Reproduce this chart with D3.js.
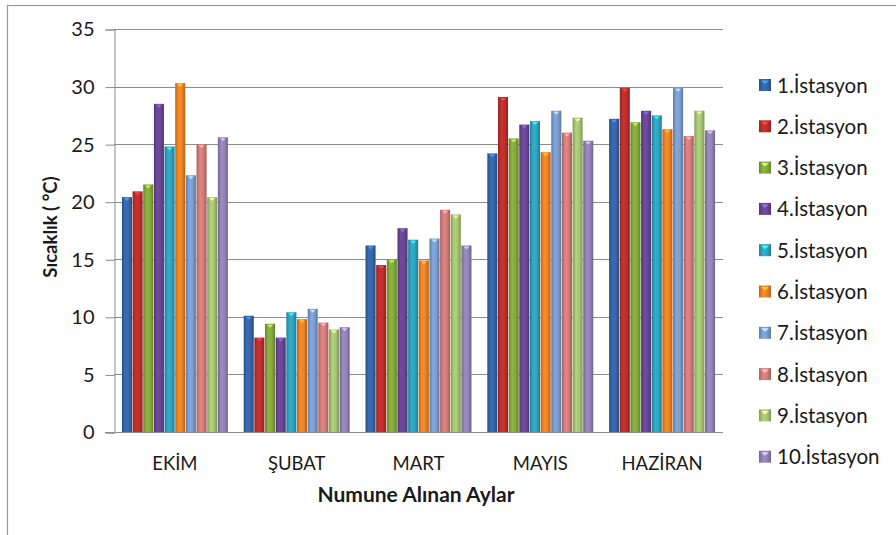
<!DOCTYPE html>
<html>
<head>
<meta charset="utf-8">
<script src="https://cdn.jsdelivr.net/npm/d3@7"></script>
<style>
  body { margin: 0; background: #fff; }
  svg { display: block; }
  text { font-family: Lato, "Open Sans", sans-serif; fill: #1a1a1a; }
</style>
</head>
<body>
<div id="chart"></div>
<script>
const months = ["EKİM", "ŞUBAT", "MART", "MAYIS", "HAZİRAN"];
const stations = ["1.İstasyon","2.İstasyon","3.İstasyon","4.İstasyon","5.İstasyon",
                  "6.İstasyon","7.İstasyon","8.İstasyon","9.İstasyon","10.İstasyon"];
// values per station, in month order
const st1  = [20.4, 10.1, 16.2, 24.2, 27.2];
const st2  = [20.9,  8.2, 14.5, 29.1, 29.9];
const st3  = [21.5,  9.4, 15.0, 25.5, 26.9];
const st4  = [28.5,  8.2, 17.7, 26.7, 27.9];
const st5  = [24.8, 10.4, 16.7, 27.0, 27.5];
const st6  = [30.3,  9.8, 14.9, 24.3, 26.3];
const st7  = [22.3, 10.7, 16.8, 27.9, 29.9];
const st8  = [25.0,  9.5, 19.3, 26.0, 25.7];
const st9  = [20.4,  8.9, 18.9, 27.3, 27.9];
const st10 = [25.6,  9.1, 16.2, 25.3, 26.2];
const series = [st1, st2, st3, st4, st5, st6, st7, st8, st9, st10];
const yTicks = [0, 5, 10, 15, 20, 25, 30, 35];
const colors = ["#3567ab","#bf2f2c","#86ac3c","#6a4797","#2ea5c1",
                "#f08424","#7c9fd3","#d67e7c","#a9c874","#9584b9"];

const W = 896, H = 535;
const svg = d3.select("#chart").append("svg").attr("width", W).attr("height", H);

// frame
svg.append("rect").attr("x", 7.5).attr("y", 5.5).attr("width", 1000).attr("height", 1000)
  .attr("fill", "none").attr("stroke", "#9a9a9a").attr("stroke-width", 1.2);

const plot = {left: 114, right: 723, top: 29, bottom: 432};
const x0 = d3.scaleBand().domain(months).range([plot.left, plot.right]).paddingInner(0.125).paddingOuter(0.0625);
const x1 = d3.scaleBand().domain(d3.range(stations.length)).range([0, x0.bandwidth()]);
const y = d3.scaleLinear().domain([0, 35]).range([plot.bottom, plot.top]);

// gradients
const defs = svg.append("defs");
colors.forEach((c, i) => {
  const g = defs.append("linearGradient").attr("id", "g" + i)
    .attr("x1", "0%").attr("x2", "100%").attr("y1", "0%").attr("y2", "0%");
  const base = d3.color(c);
  g.append("stop").attr("offset", "0%").attr("stop-color", base.darker(0.7));
  g.append("stop").attr("offset", "35%").attr("stop-color", base.brighter(0.15));
  g.append("stop").attr("offset", "65%").attr("stop-color", base);
  g.append("stop").attr("offset", "100%").attr("stop-color", base.darker(0.8));
});

// gridlines
svg.append("g").selectAll("line").data(yTicks.filter(t => t > 0)).join("line")
  .attr("x1", plot.left).attr("x2", plot.right)
  .attr("y1", d => Math.round(y(d)) + 0.5).attr("y2", d => Math.round(y(d)) + 0.5)
  .attr("stroke", "#8c8c8c").attr("stroke-width", 1);

// y axis
const yAxis = d3.axisLeft(y).tickValues(yTicks).tickSize(9).tickPadding(11);
const ya = svg.append("g").attr("transform", `translate(${plot.left + 0.5},0.5)`).call(yAxis);
ya.select(".domain").attr("stroke", "#8c8c8c");
ya.selectAll(".tick line").attr("stroke", "#8c8c8c");
ya.selectAll("text").attr("font-size", 20).attr("fill", "#1a1a1a")
  .style("font-family", "Lato, 'Open Sans', sans-serif");

// bars
const groups = svg.append("g").selectAll("g").data(months).join("g")
  .attr("transform", d => `translate(${x0(d)},0)`);
groups.selectAll("rect").data((m, mi) => series.map((s, si) => ({si, v: s[mi]}))).join("rect")
  .attr("x", d => x1(d.si) + 0.3)
  .attr("width", x1.bandwidth() - 0.6)
  .attr("y", d => y(d.v))
  .attr("height", d => y(0) - y(d.v))
  .attr("fill", d => `url(#g${d.si})`);
// small light caps at bar tops
groups.selectAll("path").data((m, mi) => series.map((s, si) => ({si, v: s[mi]}))).join("path")
  .attr("d", d => {
    const xl = x1(d.si) + 0.3, w = x1.bandwidth() - 0.6, yt = y(d.v);
    return `M${xl + 2},${yt + 1}L${xl + w - 2},${yt + 1}L${xl + w / 2},${yt + 4}Z`;
  })
  .attr("fill", d => d3.color(colors[d.si]).brighter(1.2)).attr("opacity", 0.85);

// x axis line
const xAxis = d3.axisBottom(x0).tickSize(0).tickPadding(0);
const xa = svg.append("g").attr("transform", `translate(0,${plot.bottom + 0.5})`).call(xAxis);
xa.select(".domain").attr("stroke", "#8c8c8c").attr("d", `M${plot.left - 9},0H${plot.right}`);
xa.selectAll("text").attr("font-size", 18.5).attr("fill", "#1a1a1a").attr("dy", null).attr("y", 37)
  .style("font-family", "Lato, 'Open Sans', sans-serif");

// axis titles
svg.append("text").attr("x", 416).attr("y", 502).attr("text-anchor", "middle")
  .attr("font-size", 21).attr("font-weight", "bold").text("Numune Alınan Aylar");
svg.append("text").attr("transform", "translate(57,227) rotate(-90)").attr("text-anchor", "middle")
  .attr("font-size", 18.5).attr("font-weight", "bold").text("Sıcaklık ( °C)");

// legend
const lg = svg.append("g").selectAll("g").data(stations).join("g")
  .attr("transform", (d, i) => `translate(759,${79 + i * 41.3})`);
lg.append("rect").attr("width", 12).attr("height", 12).attr("fill", (d, i) => `url(#g${i})`);
lg.append("path").attr("d", "M2,1.5L10,1.5L6,5Z").attr("fill", (d, i) => d3.color(colors[i]).brighter(1.2));
lg.append("text").attr("x", 18).attr("y", 13.5).attr("font-size", 20.5).text(d => d);
</script>
</body>
</html>
